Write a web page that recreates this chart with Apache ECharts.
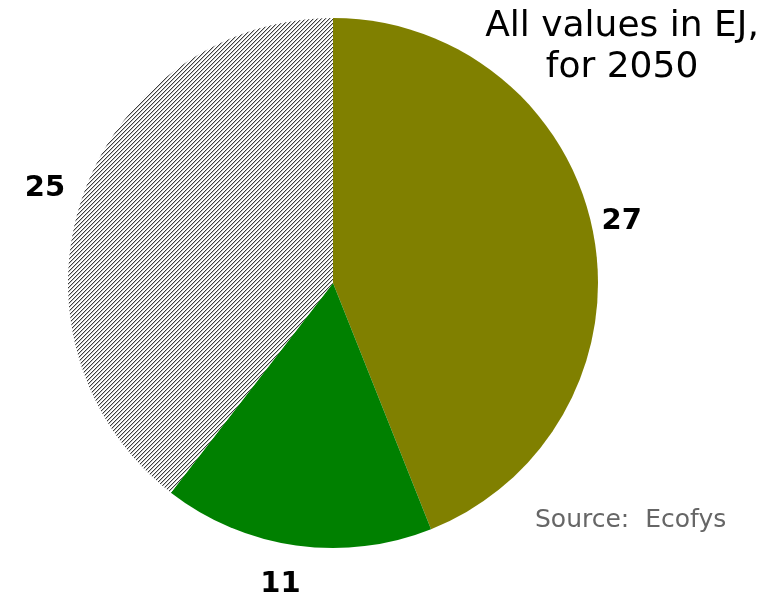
<!DOCTYPE html>
<html>
<head>
<meta charset="utf-8">
<script src="https://cdn.jsdelivr.net/npm/echarts@6/dist/echarts.min.js"></script>
<style>html,body{margin:0;padding:0;background:#fff}#c{width:774px;height:595px}</style>
</head>
<body>
<div id="c"></div>
<script>
const categories = ['Olive', 'Green', 'Hatched'];
// slice sizes
const values = [27.7, 10.4, 24.9];
// label texts as printed on the picture
const labels = ['27', '11', '25'];

function hatch() {
  const s = 4, cv = document.createElement('canvas');
  cv.width = s; cv.height = s;
  const ctx = cv.getContext('2d');
  ctx.fillStyle = '#fff'; ctx.fillRect(0, 0, s, s);
  for (let i = 0; i < s; i++) {
    ctx.fillStyle = '#3c3c3c';
    ctx.fillRect(i, s - 1 - i, 1, 1);
    ctx.fillStyle = '#c4c4c4';
    ctx.fillRect(i, (s - i) % s, 1, 1);
  }
  return cv;
}
const colors = ['#808000', '#008000', { image: hatch(), repeat: 'repeat' }];
const labelOffsets = [[-4, -5], [-11, 6], [-6, 2]];

const chart = echarts.init(document.getElementById('c'), null, { renderer: 'canvas' });
chart.setOption({
  animation: false,
  series: [
    {
      type: 'pie', center: [333, 283], radius: 265, startAngle: 90, clockwise: true,
      silent: true, label: { show: false }, labelLine: { show: false },
      data: categories.map((c, i) => ({ name: c, value: values[i], itemStyle: { color: colors[i] } }))
    },
    {
      type: 'pie', center: [333, 283], radius: [285, 305], startAngle: 90, clockwise: true,
      silent: true, labelLine: { show: false },
      itemStyle: { color: 'rgba(0,0,0,0)' },
      label: { show: true, position: 'inside', color: '#000', fontFamily: 'DejaVu Sans', fontWeight: 'bold', fontSize: 29 },
      data: categories.map((c, i) => ({ name: c, value: values[i], label: { formatter: labels[i], offset: labelOffsets[i] } }))
    }
  ],
  graphic: [
    { type: 'text', x: 622, y: 6, style: { text: 'All values in EJ,\nfor 2050', font: '36px "DejaVu Sans"', fill: '#000', align: 'center', verticalAlign: 'top', lineHeight: 41 } },
    { type: 'text', x: 535, y: 520, style: { text: 'Source:  Ecofys', font: '25px "DejaVu Sans"', fill: '#666', align: 'left', verticalAlign: 'middle' } }
  ]
});
</script>
</body>
</html>
